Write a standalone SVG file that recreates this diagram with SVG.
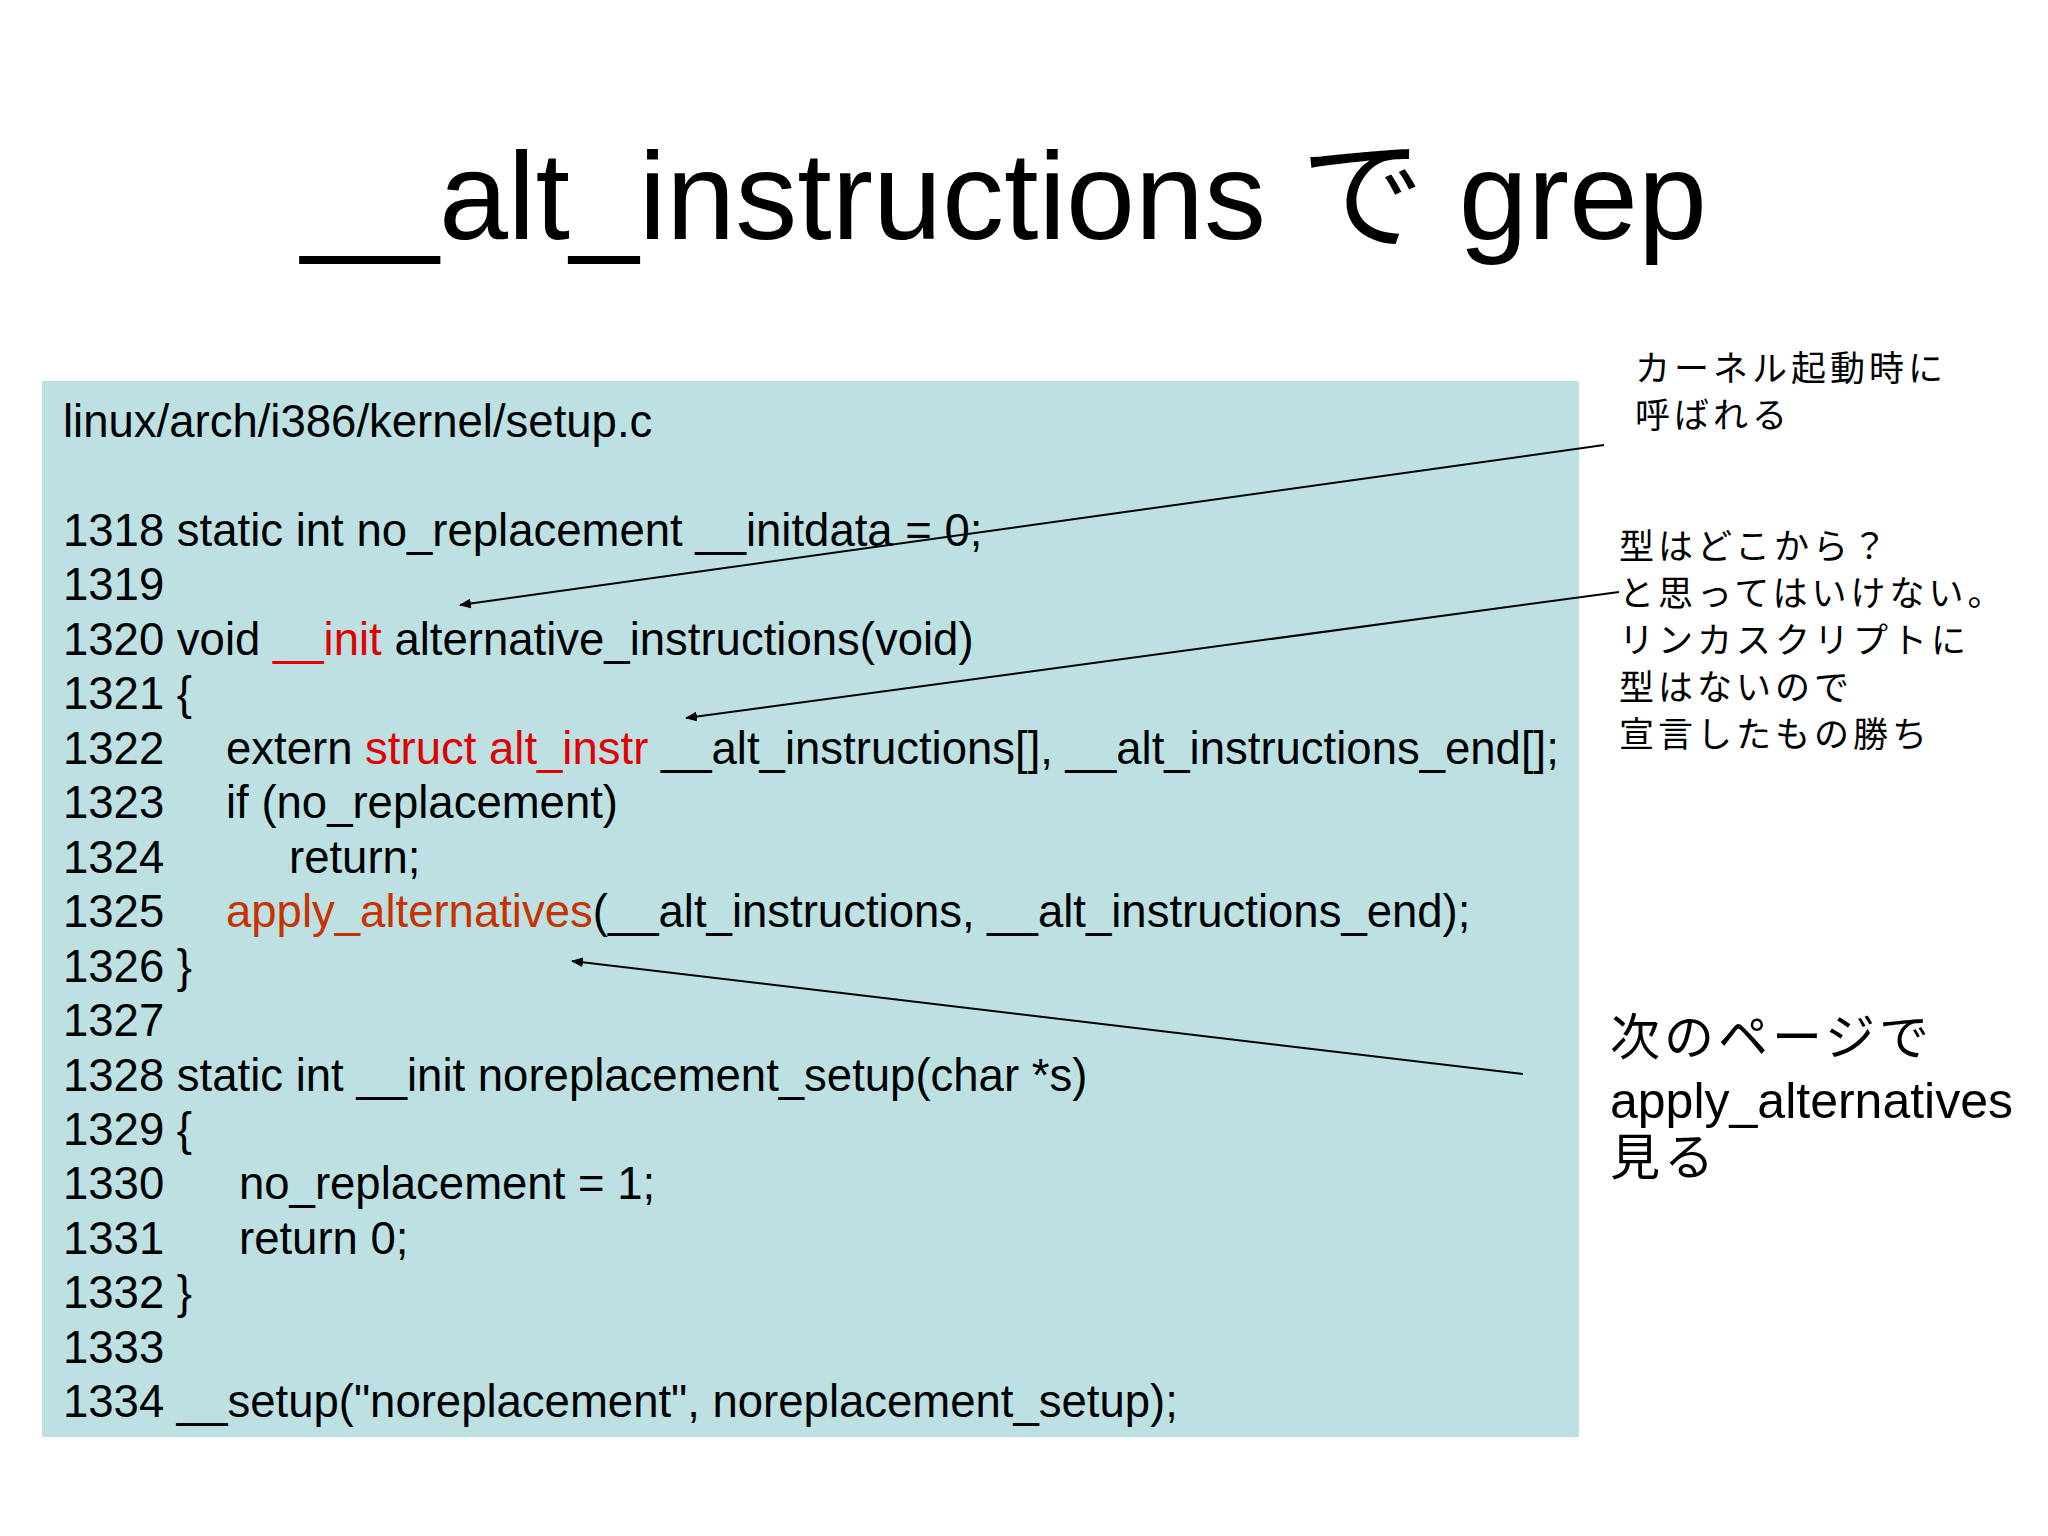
<svg xmlns="http://www.w3.org/2000/svg" width="2048" height="1536" viewBox="0 0 2048 1536">
<defs>
<style>
.t{font-family:"Liberation Sans","Noto Sans CJK JP",sans-serif;fill:#000}
.c{font-size:45.5px}
.r{fill:#e00000}
.o{fill:#c83200}
.j{font-family:"Noto Sans CJK JP","Liberation Sans",sans-serif;font-size:35px;letter-spacing:4px}
.l{stroke:#000;stroke-width:2;fill:none;marker-end:url(#a)}
</style>
<marker id="a" markerWidth="12" markerHeight="10" refX="11" refY="5" orient="auto" markerUnits="userSpaceOnUse"><path d="M0,0 L12,5 L0,10 z" fill="#000"/></marker>
</defs>
<rect width="2048" height="1536" fill="#fff"/>
<text class="t" x="1004" y="239" font-size="124" text-anchor="middle">__alt_instructions で grep</text>
<g id="code">
<rect x="42" y="381" width="1537" height="1056" fill="#bde0e3"/>
<text class="t c" x="63" y="437">linux/arch/i386/kernel/setup.c</text>
<text class="t c" x="63" y="546">1318 static int no_replacement __initdata = 0;</text>
<text class="t c" x="63" y="600">1319</text>
<text class="t c" x="63" y="655">1320 void <tspan class="r">__init</tspan> alternative_instructions(void)</text>
<text class="t c" x="63" y="709">1321 {</text>
<text class="t c" y="764"><tspan x="63">1322</tspan><tspan x="226">extern </tspan><tspan class="r">struct alt_instr</tspan> __alt_instructions[], __alt_instructions_end[];</text>
<text class="t c" y="818"><tspan x="63">1323</tspan><tspan x="226">if (no_replacement)</tspan></text>
<text class="t c" y="873"><tspan x="63">1324</tspan><tspan x="289">return;</tspan></text>
<text class="t c" y="927"><tspan x="63">1325</tspan><tspan x="226" class="o">apply_alternatives</tspan>(__alt_instructions, __alt_instructions_end);</text>
<text class="t c" x="63" y="982">1326 }</text>
<text class="t c" x="63" y="1036">1327</text>
<text class="t c" x="63" y="1091">1328 static int __init noreplacement_setup(char *s)</text>
<text class="t c" x="63" y="1145">1329 {</text>
<text class="t c" y="1199"><tspan x="63">1330</tspan><tspan x="239">no_replacement = 1;</tspan></text>
<text class="t c" y="1254"><tspan x="63">1331</tspan><tspan x="239">return 0;</tspan></text>
<text class="t c" x="63" y="1308">1332 }</text>
<text class="t c" x="63" y="1363">1333</text>
<text class="t c" x="63" y="1417">1334 __setup("noreplacement", noreplacement_setup);</text>
</g>
<g id="note1"><text class="j" x="1635" y="381">カーネル起動時に</text><text class="j" x="1635" y="428">呼ばれる</text></g>
<g id="note2"><text class="j" x="1619" y="559">型はどこから？</text><text class="j" x="1619" y="606">と思ってはいけない。</text><text class="j" x="1619" y="653">リンカスクリプトに</text><text class="j" x="1619" y="700">型はないので</text><text class="j" x="1619" y="747">宣言したもの勝ち</text></g>
<g id="note3" font-size="50"><text class="t" x="1610" y="1055" letter-spacing="4">次のページで</text><text class="t" x="1610" y="1118">apply_alternatives</text><text class="t" x="1610" y="1175" letter-spacing="4">見る</text></g>
<g id="connectors">
<line class="l" x1="1604" y1="445" x2="460" y2="605"/>
<line class="l" x1="1619" y1="592" x2="686" y2="718"/>
<line class="l" x1="1523" y1="1074" x2="572" y2="961"/>
</g>
</svg>
